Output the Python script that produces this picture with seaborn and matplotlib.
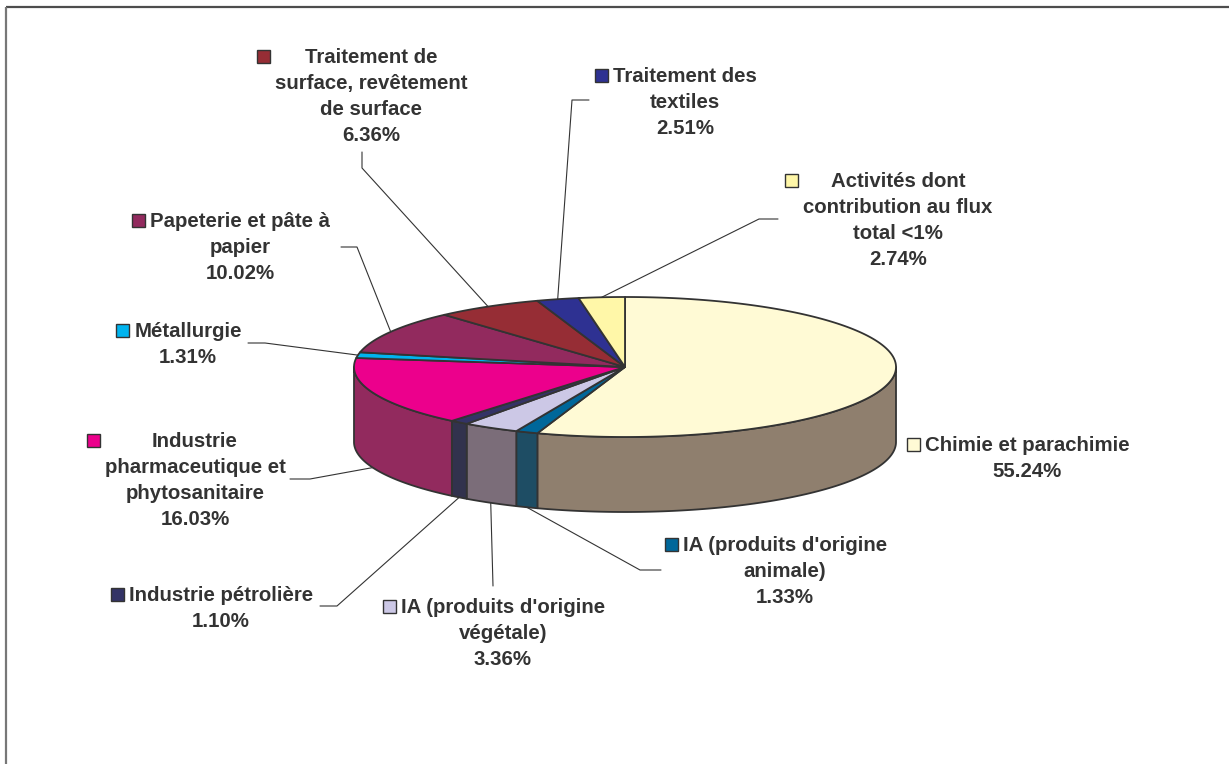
import numpy as np
import matplotlib
matplotlib.use("Agg")
import matplotlib.pyplot as plt
from matplotlib.patches import Polygon, Rectangle
import seaborn as sns

# Sector shares of the total flux (percent), listed clockwise from 12 o'clock
categories = [
    "Chimie et parachimie",
    "IA (produits d'origine\nanimale)",
    "IA (produits d'origine\nvégétale)",
    "Industrie pétrolière",
    "Industrie\npharmaceutique et\nphytosanitaire",
    "Métallurgie",
    "Papeterie et pâte à\npapier",
    "Traitement de\nsurface, revêtement\nde surface",
    "Traitement des\ntextiles",
    "Activités dont\ncontribution au flux\ntotal <1%",
]
shares = [55.24, 1.33, 3.36, 1.10, 16.03, 1.31, 10.02, 6.36, 2.51, 2.74]

top_colors = ["#FFFAD5", "#00679A", "#CCC8E6", "#333366", "#EC008C",
              "#00B4EF", "#922A5E", "#962D35", "#2E3192", "#FFF7A8"]
side_colors = ["#8F7F6E", "#1E4D64", "#7B6D79", "#32324D", "#922A5E",
               "#00728F", "#5C1A3B", "#5E1C21", "#1D1F5C", "#A09A69"]

sns.set_theme(style="white")
plt.rcParams["font.family"] = ["Liberation Sans", "DejaVu Sans"]
palette = sns.color_palette(top_colors)

W, H = 1229, 764
fig = plt.figure(figsize=(W / 100, H / 100), dpi=100)
ax = fig.add_axes([0, 0, 1, 1])
ax.set_xlim(0, W)
ax.set_ylim(H, 0)
ax.axis("off")

EDGE = "#333333"
TXT = "#333333"

# chart frame (top and left edges)
ax.plot([5.5, W], [7, 7], color="#4d4d4d", lw=1.6, solid_capstyle="butt")
ax.plot([5.5, 5.5], [7, H], color="#777777", lw=1.6, solid_capstyle="butt")

# 3-D pie geometry: ellipse centre, radii and wall depth
cx, cy, rx, ry, depth = 625, 367, 271, 70, 75

vals = np.array(shares, dtype=float)
bounds = np.concatenate([[0.0], np.cumsum(vals)]) / vals.sum() * 360.0


def arc(a, b, dy=0.0):
    n = max(2, int(abs(b - a) * 3) + 2)
    t = np.radians(np.linspace(a, b, n))
    return np.column_stack([cx + rx * np.sin(t), cy - ry * np.cos(t) + dy])


# side walls of the front half
for i in range(len(vals)):
    a, b = max(bounds[i], 90.0), min(bounds[i + 1], 270.0)
    if b > a:
        poly = np.vstack([arc(a, b), arc(b, a, depth)])
        ax.add_patch(Polygon(poly, closed=True, fc=side_colors[i], ec=EDGE,
                             lw=1.3, joinstyle="round", zorder=2))

# top faces
for i in range(len(vals)):
    poly = np.vstack([[cx, cy], arc(bounds[i], bounds[i + 1])])
    ax.add_patch(Polygon(poly, closed=True, fc=palette[i], ec=EDGE,
                         lw=1.3, joinstyle="round", zorder=3))

# label block placement: (centre x, baseline of first line)
label_pos = [(1027, 451), (785, 551), (503, 613), (221, 601), (195, 447),
             (188, 337), (240, 227), (371, 63), (685, 82), (898, 187)]
# leader-line points on the label side (None = no leader)
leader_pts = [None,
              [(661, 570), (640, 570)],
              [(493, 586)],
              [(320, 606), (337, 606)],
              [(290, 479), (310, 479)],
              [(248, 343), (265, 343)],
              [(341, 247), (357, 247)],
              [(362, 152), (362, 168)],
              [(589, 100), (572, 100)],
              [(778, 219), (759, 219)]]

LINE_STEP = 26
KEY = 13
GAP = 5
FS = 14.7

fig.canvas.draw()
renderer = fig.canvas.get_renderer()
inv = ax.transData.inverted()

for i, cat in enumerate(categories):
    x, y0 = label_pos[i]
    lines = cat.split("\n") + [f"{shares[i]:.2f}%"]
    texts = []
    for k, s in enumerate(lines):
        t = ax.text(x, y0 + k * LINE_STEP, s, ha="center", va="baseline",
                    fontsize=FS, fontweight="bold", color=TXT, zorder=5)
        texts.append(t)
    x0 = min(t.get_window_extent(renderer).x0 for t in texts)
    x0d = inv.transform((x0, 0))[0]
    ax.add_patch(Rectangle((x0d - GAP - KEY, y0 - 7 - KEY / 2), KEY, KEY,
                           fc=palette[i], ec=EDGE, lw=1.0, zorder=5))

    # leader line to the slice mid-angle (front slices attach at the wall bottom)
    if leader_pts[i] is not None:
        mid = np.radians((bounds[i] + bounds[i + 1]) / 2)
        ax_x = cx + rx * np.sin(mid)
        ax_y = cy - ry * np.cos(mid)
        if 90 < np.degrees(mid) < 270:
            ax_y += depth
        pts = leader_pts[i] + [(ax_x, ax_y)]
        xs, ys = zip(*pts)
        ax.plot(xs, ys, color=EDGE, lw=0.8, zorder=4)

fig.savefig("out.png", dpi=100, facecolor="white")
